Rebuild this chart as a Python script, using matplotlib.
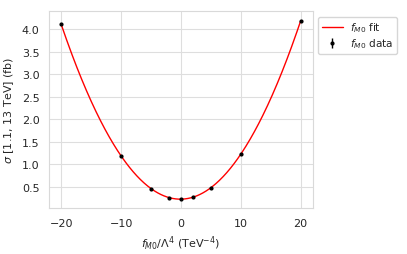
import numpy as np
import matplotlib
matplotlib.use("Agg")
import matplotlib.pyplot as plt
import seaborn as sns

sns.set_style("whitegrid", {"grid.color": ".87", "axes.edgecolor": ".85"})
plt.rcParams['font.family'] = ['DejaVu Sans']

f_vals = [-20, -10, -5, -2, 0, 2, 5, 10, 20]
sigma_vals = [4.10, 1.195, 0.465, 0.257, 0.228, 0.268, 0.486, 1.23, 4.175]
sigma_err = [0.02, 0.01, 0.005, 0.004, 0.004, 0.004, 0.005, 0.01, 0.02]

coef = np.polyfit(f_vals, sigma_vals, 2)
xfit = np.linspace(min(f_vals), max(f_vals), 400)
yfit = np.polyval(coef, xfit)

fig = plt.figure(figsize=(4.07, 2.55), dpi=100)
ax = fig.add_axes([0.121, 0.179, 0.647, 0.773])
ax.plot(xfit, yfit, color='red', lw=1.0, label=r'$f_{M0}$ fit')
ax.errorbar(f_vals, sigma_vals, yerr=sigma_err, fmt='.', color='k', ms=4,
            elinewidth=1, label=r'$f_{M0}$ data')
ax.set_xlabel(r'$f_{M0}/\Lambda^4$ (TeV$^{-4}$)', fontsize=8, color='.15')
ax.set_ylabel(r'$\sigma$ [1.1, 13 TeV] (fb)', fontsize=8, color='.15')
ax.tick_params(labelsize=8)
ax.set_xticks([-20, -10, 0, 10, 20])
ax.set_yticks([0.5, 1.0, 1.5, 2.0, 2.5, 3.0, 3.5, 4.0])
ax.legend(loc='upper left', bbox_to_anchor=(1.0, 1.0), fontsize=7.6,
          frameon=True, labelspacing=0.25, borderpad=0.35, handletextpad=0.7)
fig.savefig('out.png', dpi=100)
